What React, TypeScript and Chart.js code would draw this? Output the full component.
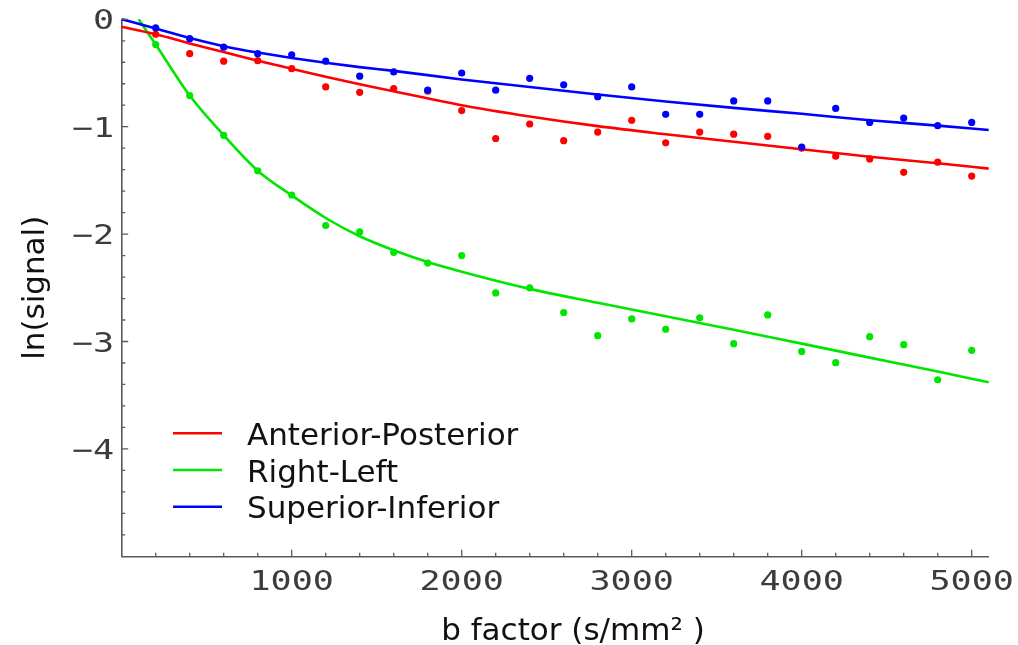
import React, { useEffect, useRef } from 'react';
import { Chart, registerables } from 'chart.js';

Chart.register(...registerables);

// ---- data ----
const bFactors = [200, 400, 600, 800, 1000, 1200, 1400, 1600, 1800, 2000, 2200, 2400, 2600, 2800, 3000, 3200, 3400, 3600, 3800, 4000, 4200, 4400, 4600, 4800, 5000];
const apSignal = [-0.14, -0.32, -0.39, -0.385, -0.46, -0.63, -0.68, -0.645, -0.67, -0.85, -1.11, -0.975, -1.13, -1.05, -0.94, -1.15, -1.05, -1.07, -1.09, -1.2, -1.275, -1.3, -1.425, -1.33, -1.46];
const rlSignal = [-0.235, -0.71, -1.08, -1.41, -1.636, -1.92, -1.98, -2.17, -2.27, -2.2, -2.548, -2.5, -2.73, -2.946, -2.79, -2.887, -2.78, -3.02, -2.753, -3.092, -3.197, -2.955, -3.03, -3.356, -3.082];
const siSignal = [-0.08, -0.18, -0.26, -0.32, -0.33, -0.39, -0.53, -0.49, -0.66, -0.5, -0.66, -0.55, -0.61, -0.72, -0.63, -0.885, -0.885, -0.76, -0.76, -1.19, -0.83, -0.96, -0.92, -0.99, -0.96];

const apFitB = [0, 200, 400, 600, 800, 1000, 1200, 1400, 1600, 2000, 2400, 2800, 3200, 3600, 4000, 4400, 4800, 5100];
const apFit = [-0.07, -0.14, -0.225, -0.305, -0.385, -0.46, -0.535, -0.605, -0.67, -0.8, -0.905, -0.995, -1.07, -1.14, -1.21, -1.28, -1.34, -1.39];
const rlFitB = [100, 200, 400, 600, 800, 1000, 1200, 1400, 1600, 1800, 2000, 2400, 2800, 3200, 3600, 4000, 4400, 4800, 5100];
const rlFit = [0, -0.235, -0.71, -1.08, -1.41, -1.64, -1.85, -2.02, -2.15, -2.26, -2.35, -2.51, -2.64, -2.765, -2.89, -3.02, -3.15, -3.28, -3.38];
const siFitB = [0, 200, 400, 600, 800, 1000, 1200, 1400, 1600, 2000, 2400, 2800, 3200, 3600, 4000, 4400, 4800, 5100];
const siFit = [0, -0.085, -0.175, -0.25, -0.31, -0.36, -0.405, -0.445, -0.48, -0.56, -0.63, -0.7, -0.765, -0.825, -0.88, -0.94, -0.99, -1.03];

const seriesLabels = ['Anterior-Posterior', 'Right-Left', 'Superior-Inferior'];
const seriesColors = ['#ff0000', '#00e600', '#0000ff'];

const xTickValues = [1000, 2000, 3000, 4000, 5000];
const xTickLabels = ['1000', '2000', '3000', '4000', '5000'];
const yTickValues = [0, -1, -2, -3, -4];
const yTickLabels = ['0', '\u22121', '\u22122', '\u22123', '\u22124'];

const X_TITLE = 'b factor (s/mm\u00B2 )';
const Y_TITLE = 'ln(signal)';

// ---- styles ----
const AXIS_COLOR = '#5a5a5a';
const TEXT_FONT = '31px "DejaVu Sans"';
const TICK_FONT = '27px "DejaVu Sans Mono"';
const TICK_STRETCH = 1.3;

const toXY = (xs: number[], ys: number[]) => xs.map((x, i) => ({ x, y: ys[i] }));

function stretchedText(ctx: CanvasRenderingContext2D, text: string, x: number, y: number, align: CanvasTextAlign, sx: number) {
  ctx.save();
  ctx.translate(x, y);
  ctx.scale(sx, 1);
  ctx.textAlign = align;
  ctx.textBaseline = 'alphabetic';
  ctx.fillText(text, 0, 0);
  ctx.restore();
}

const decorPlugin = {
  id: 'decor',
  afterDraw(chart: any) {
    const { ctx, chartArea: ca, scales } = chart;
    const x = scales.x;
    const y = scales.y;
    ctx.save();

    // inward tick marks
    ctx.strokeStyle = AXIS_COLOR;
    ctx.lineWidth = 1.3;
    ctx.beginPath();
    for (let k = 1; k <= 25; k++) {
      const px = x.getPixelForValue(k * 200);
      const len = k % 5 === 0 ? 6.5 : 3.5;
      ctx.moveTo(px, ca.bottom);
      ctx.lineTo(px, ca.bottom - len);
    }
    for (let k = 0; k <= 24; k++) {
      const py = y.getPixelForValue(-k / 5);
      const len = k % 5 === 0 ? 6.5 : 3.5;
      ctx.moveTo(ca.left, py);
      ctx.lineTo(ca.left + len, py);
    }
    ctx.stroke();

    // tick labels
    ctx.font = TICK_FONT;
    ctx.fillStyle = '#3c3c3c';
    xTickValues.forEach((v, i) => {
      stretchedText(ctx, xTickLabels[i], x.getPixelForValue(v), ca.bottom + 33.2, 'center', TICK_STRETCH);
    });
    yTickValues.forEach((v, i) => {
      stretchedText(ctx, yTickLabels[i], ca.left - 7.5, y.getPixelForValue(v) + 10, 'right', TICK_STRETCH);
    });

    // axis titles
    ctx.font = TEXT_FONT;
    ctx.fillStyle = '#111';
    ctx.textAlign = 'center';
    ctx.textBaseline = 'alphabetic';
    ctx.fillText(X_TITLE, 573, ca.bottom + 83.7);
    ctx.save();
    ctx.translate(43.6, (ca.top + ca.bottom) / 2);
    ctx.rotate(-Math.PI / 2);
    ctx.fillText(Y_TITLE, 0, 0);
    ctx.restore();

    // legend
    ctx.textAlign = 'left';
    seriesLabels.forEach((label, i) => {
      const rowY = ca.top + 414 + i * 36.7;
      ctx.strokeStyle = seriesColors[i];
      ctx.lineWidth = 2.5;
      ctx.beginPath();
      ctx.moveTo(ca.left + 51.3, rowY);
      ctx.lineTo(ca.left + 100.3, rowY);
      ctx.stroke();
      ctx.fillStyle = '#111';
      ctx.fillText(label, ca.left + 125.3, rowY + 11.7);
    });

    ctx.restore();
  },
};

export default function App() {
  const canvasRef = useRef<HTMLCanvasElement | null>(null);

  useEffect(() => {
    if (!canvasRef.current) return;
    const pointSet = (label: string, color: string, ys: number[]) => ({
      label,
      data: toXY(bFactors, ys),
      showLine: false,
      pointRadius: 3.6,
      pointHoverRadius: 3.6,
      pointBackgroundColor: color,
      pointBorderWidth: 0,
      borderWidth: 0,
      borderColor: color,
      backgroundColor: color,
    });
    const fitSet = (label: string, color: string, xs: number[], ys: number[]) => ({
      label,
      data: toXY(xs, ys),
      showLine: true,
      pointRadius: 0,
      pointHoverRadius: 0,
      borderColor: color,
      backgroundColor: color,
      borderWidth: 2.6,
      cubicInterpolationMode: 'monotone',
      fill: false,
      clip: false,
    });

    const chart = new Chart(canvasRef.current, {
      type: 'scatter',
      data: {
        datasets: [
          pointSet(seriesLabels[2], seriesColors[2], siSignal),
          pointSet(seriesLabels[0], seriesColors[0], apSignal),
          pointSet(seriesLabels[1], seriesColors[1], rlSignal),
          fitSet(seriesLabels[2] + ' fit', seriesColors[2], siFitB, siFit),
          fitSet(seriesLabels[0] + ' fit', seriesColors[0], apFitB, apFit),
          fitSet(seriesLabels[1] + ' fit', seriesColors[1], rlFitB, rlFit),
        ] as any,
      },
      options: {
        animation: false,
        responsive: true,
        maintainAspectRatio: false,
        events: [],
        layout: { padding: { left: 121.7, right: 29.3, top: 19.3, bottom: 88.7 } },
        plugins: { legend: { display: false }, tooltip: { enabled: false } },
        scales: {
          x: {
            type: 'linear',
            min: 0,
            max: 5100,
            ticks: { display: false },
            grid: { display: false, drawTicks: false, tickLength: 0 },
            border: { display: true, color: AXIS_COLOR, width: 1.6 },
          },
          y: {
            type: 'linear',
            min: -5,
            max: 0,
            ticks: { display: false },
            grid: { display: false, drawTicks: false, tickLength: 0 },
            border: { display: true, color: AXIS_COLOR, width: 1.6 },
          },
        },
      },
      plugins: [decorPlugin],
    });
    return () => chart.destroy();
  }, []);

  return (
    <div style={{ position: 'fixed', left: 0, top: 0, width: 1018, height: 645, background: '#fff' }}>
      <canvas ref={canvasRef} />
    </div>
  );
}
